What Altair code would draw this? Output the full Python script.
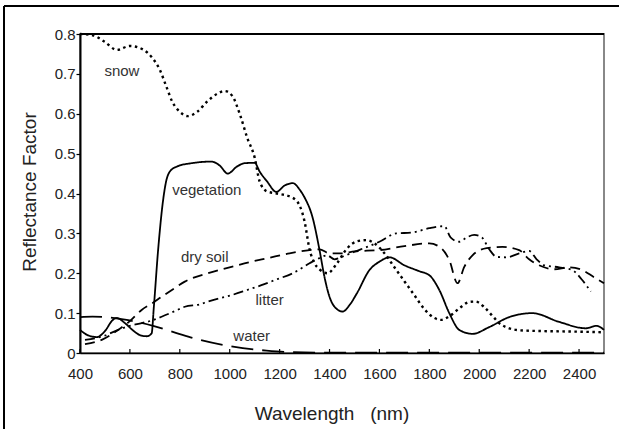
import altair as alt
import pandas as pd

# Spectral reflectance curves (wavelength in nm, reflectance factor)
snow_nm = [400, 450, 500, 548, 600, 650, 690, 720, 745, 770, 800, 832, 870, 912, 950, 980,
           1010, 1040, 1070, 1100, 1120, 1150, 1190, 1250, 1280, 1300, 1320, 1340, 1360, 1392,
           1430, 1470, 1510, 1547, 1580, 1620, 1660, 1700, 1740, 1780, 1820, 1847, 1880, 1920,
           1960, 1985, 2020, 2050, 2080, 2120, 2160, 2250, 2350, 2500]
snow_r = [0.80, 0.797, 0.78, 0.76, 0.77, 0.762, 0.74, 0.71, 0.67, 0.63, 0.605, 0.594, 0.605, 0.632,
          0.65, 0.657, 0.645, 0.60, 0.54, 0.49, 0.43, 0.405, 0.40, 0.39, 0.37, 0.33, 0.26, 0.225,
          0.21, 0.20, 0.225, 0.262, 0.28, 0.283, 0.275, 0.25, 0.215, 0.18, 0.145, 0.11, 0.088,
          0.083, 0.092, 0.112, 0.128, 0.129, 0.115, 0.095, 0.075, 0.062, 0.057, 0.055, 0.054, 0.052]

veg_nm = [400, 430, 467, 500, 530, 547, 580, 610, 640, 667, 687, 696, 713, 733, 745, 760, 790,
          847, 927, 960, 992, 1030, 1060, 1100, 1120, 1150, 1187, 1220, 1253, 1280, 1300, 1332,
          1360, 1380, 1400, 1420, 1453, 1480, 1510, 1560, 1600, 1640, 1700, 1760, 1800, 1840,
          1880, 1920, 1973, 2040, 2120, 2213, 2320, 2427, 2470, 2500]
veg_r = [0.058, 0.045, 0.040, 0.055, 0.082, 0.088, 0.075, 0.058, 0.045, 0.042, 0.049, 0.116,
         0.258, 0.383, 0.43, 0.455, 0.468, 0.476, 0.48, 0.47, 0.45, 0.468, 0.476, 0.477, 0.455,
         0.43, 0.404, 0.42, 0.426, 0.41, 0.39, 0.34, 0.258, 0.19, 0.141, 0.116, 0.104, 0.12,
         0.15, 0.208, 0.229, 0.24, 0.22, 0.205, 0.195, 0.158, 0.10, 0.058, 0.048, 0.065, 0.09,
         0.10, 0.078, 0.062, 0.068, 0.058]

soil_nm = [420, 487, 553, 600, 647, 690, 727, 780, 820, 913, 1007, 1080, 1153, 1240, 1320, 1360,
           1400, 1450, 1500, 1600, 1700, 1800, 1847, 1880, 1913, 1940, 1973, 2030, 2093, 2160,
           2200, 2260, 2300, 2360, 2413, 2460, 2500]
soil_r = [0.022, 0.033, 0.058, 0.08, 0.108, 0.125, 0.141, 0.163, 0.179, 0.20, 0.216, 0.228,
          0.238, 0.25, 0.258, 0.26, 0.25, 0.25, 0.255, 0.258, 0.268, 0.275, 0.263, 0.233, 0.175,
          0.216, 0.245, 0.263, 0.266, 0.258, 0.235, 0.215, 0.21, 0.215, 0.208, 0.19, 0.175]

litter_nm = [420, 487, 553, 600, 647, 690, 727, 780, 820, 880, 913, 1007, 1070, 1127, 1190, 1253,
             1320, 1360, 1390, 1420, 1450, 1500, 1550, 1600, 1667, 1730, 1800, 1860, 1885, 1920,
             1950, 1980, 2010, 2040, 2070, 2110, 2160, 2200, 2230, 2260, 2320, 2373, 2410, 2447]
litter_r = [0.033, 0.041, 0.058, 0.068, 0.075, 0.082, 0.091, 0.105, 0.116, 0.122, 0.129, 0.145,
            0.158, 0.17, 0.185, 0.20, 0.225, 0.238, 0.245, 0.235, 0.241, 0.254, 0.266, 0.279,
            0.30, 0.302, 0.313, 0.318, 0.29, 0.279, 0.29, 0.296, 0.29, 0.26, 0.241, 0.24, 0.25,
            0.256, 0.235, 0.22, 0.215, 0.208, 0.185, 0.154]

water_nm = [400, 450, 500, 587, 693, 787, 880, 1013, 1147, 1250, 1400, 1800, 2200, 2500]
water_r = [0.09, 0.091, 0.09, 0.083, 0.068, 0.05, 0.033, 0.016, 0.006, 0.002, 0.001, 0.001,
           0.001, 0.001]

# Curve labels placed inside the plot
label_text = ["snow", "vegetation", "dry soil", "litter", "water"]
label_nm = [568, 908, 900, 1160, 1088]
label_r = [0.707, 0.409, 0.241, 0.133, 0.043]

x_ticks = [400, 600, 800, 1000, 1200, 1400, 1600, 1800, 2000, 2200, 2400]
y_ticks = [0, 0.1, 0.2, 0.3, 0.4, 0.5, 0.6, 0.7, 0.8]

W, H = 524, 319
PAD_RIGHT = 15
PAD_BOTTOM = 76
FONT = "Liberation Sans"
INK = "#222222"

x_scale = alt.Scale(domain=[400, 2500], nice=False, zero=False)
y_scale = alt.Scale(domain=[0, 0.8], nice=False)

x_axis = alt.Axis(
    values=x_ticks, format="d", ticks=False, grid=False, labelFlush=False,
    domainColor="black", domainWidth=1.5, labelPadding=13,
    labelFont=FONT, labelFontSize=15, labelColor=INK,
    title="Wavelength\u00a0\u00a0\u00a0(nm)", titleFont=FONT, titleFontSize=19,
    titleFontWeight="normal", titleColor=INK, titleX=251.5, titleY=66,
    titleAlign="center", titleBaseline="alphabetic",
)
y_axis = alt.Axis(
    values=y_ticks, format="~g", grid=False, tickSize=4, tickColor="black",
    tickWidth=1.2, labelFlush=False, domainColor="black", domainWidth=2, labelPadding=1,
    labelFont=FONT, labelFontSize=15, labelColor=INK,
    title="Reflectance Factor", titleFont=FONT, titleFontSize=19,
    titleFontWeight="normal", titleColor=INK, titleAngle=270, titleX=-45,
    titleY=157.5, titleAlign="center", titleBaseline="alphabetic",
)


def xy():
    # every data layer shares the same scales and axis definitions
    return dict(
        x=alt.X("wavelength:Q", scale=x_scale, axis=x_axis),
        y=alt.Y("reflectance:Q", scale=y_scale, axis=y_axis),
    )


series = [
    ("snow", snow_nm, snow_r, [2.5, 3.5], 2.4),
    ("vegetation", veg_nm, veg_r, [1, 0], 1.8),
    ("dry soil", soil_nm, soil_r, [10, 6], 1.8),
    ("litter", litter_nm, litter_r, [10, 4, 2, 4, 2, 4], 1.8),
    ("water", water_nm, water_r, [22, 9], 1.8),
]

layers = []
for name, nm, r, dash, sw in series:
    df = pd.DataFrame({"wavelength": nm, "reflectance": r, "surface": name})
    layers.append(
        alt.Chart(df).mark_line(
            color="black", strokeWidth=sw, strokeDash=dash, interpolate="monotone",
            strokeCap="butt",
        ).encode(**xy())
    )

labels_df = pd.DataFrame({"wavelength": label_nm, "reflectance": label_r, "text": label_text})
labels = alt.Chart(labels_df).mark_text(
    font=FONT, fontSize=15, color="#333333", align="center", baseline="middle"
).encode(text="text:N", **xy())

# Inward tick marks on the wavelength axis
ticks_df = pd.DataFrame({"wavelength": x_ticks})
x_tick_marks = alt.Chart(ticks_df).mark_rule(color="black", strokeWidth=1.2).encode(
    x=alt.X("wavelength:Q", scale=x_scale, axis=x_axis),
    y=alt.value(H),
    y2=alt.value(H - 4),
)

# Dark top edge of the plot frame
top_edge = alt.Chart(alt.Data(values=[{}])).mark_rule(color="black", strokeWidth=2).encode(
    x=alt.value(0), x2=alt.value(W), y=alt.value(0)
)

# Outer figure frame: top and left edges
frame_top = alt.Chart(alt.Data(values=[{}])).mark_rule(color="black", strokeWidth=2).encode(
    x=alt.value(-76), x2=alt.value(W + PAD_RIGHT), y=alt.value(-28)
)
frame_left = alt.Chart(alt.Data(values=[{}])).mark_rule(color="black", strokeWidth=2).encode(
    x=alt.value(-76), y=alt.value(-28), y2=alt.value(H + PAD_BOTTOM)
)

chart = alt.layer(*layers, labels, x_tick_marks, top_edge, frame_top, frame_left).properties(
    width=W,
    height=H,
    autosize=alt.AutoSizeParams(type="none"),
    padding={"left": 80, "top": 34, "right": PAD_RIGHT, "bottom": PAD_BOTTOM},
    background="white",
).configure_view(stroke="#888888", strokeWidth=2)

chart.save("out.html", embed_options={"renderer": "svg", "actions": False})
